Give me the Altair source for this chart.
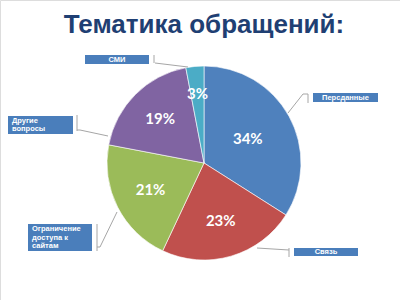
import altair as alt
import pandas as pd

# ---- data ----
categories = ["Персданные", "Связь", "Ограничение доступа к сайтам", "Другие вопросы", "СМИ"]
shares = [34, 23, 21, 19, 3]
colors = ["#4F81BD", "#C0504D", "#9BBB59", "#8064A2", "#4BACC6"]
label_lines = [["Персданные"], ["Связь"], ["Ограничение", "доступа к", "сайтам"], ["Другие", "вопросы"], ["СМИ"]]

# ---- layout (annotation placement, pixels) ----
CX, CY, R = 204, 163, 97
pct_radius = [50, 60, 60, 62, 69]
boxes = [  # x0, y0, x1, y1, text-align
    (313, 93, 378, 102, "center"),
    (294, 248, 358, 256, "center"),
    (28, 224, 92, 251, "left"),
    (8, 116, 73, 134, "left"),
    (85, 55, 149, 64, "center"),
]
leaders = [  # polyline points
    [(288, 113), (303, 94), (308, 94)],
    [(257, 248), (289, 250)],
    [(117, 212), (100, 247), (97, 247)],
    [(108, 136), (80, 130), (77, 130)],
    [(188, 67), (155, 63)],
]
ticks = [(308, 94, 103), (289, 248, 257), (97, 224, 251), (77, 115, 131), (154, 55, 63)]

df = pd.DataFrame({
    "cat": categories,
    "share": shares,
    "idx": list(range(len(categories))),
    "label": [f"{s}%" for s in shares],
    "r": pct_radius,
})
total = float(sum(shares))
df["mid"] = df["share"].cumsum() - df["share"] / 2

color_scale = alt.Scale(domain=categories, range=colors)
pie = alt.Chart(df).mark_arc(outerRadius=R, stroke="#ffffff", strokeWidth=0.6).encode(
    theta=alt.Theta("share:Q", stack=True),
    order=alt.Order("idx:Q"),
    color=alt.Color("cat:N", scale=color_scale, legend=None),
    x=alt.value(CX), y=alt.value(CY),
)
pct = alt.Chart(df).mark_text(font="Lato", fontSize=15, fontWeight="bold", color="white").encode(
    theta=alt.Theta("mid:Q", stack=None, scale=alt.Scale(domain=[0, total], range=[0, 6.283185307179586])),
    text="label:N",
    radius=alt.Radius("r:Q", scale=None),
    x=alt.value(CX), y=alt.value(CY),
)

# label boxes
bx = pd.DataFrame({
    "x0": [b[0] for b in boxes], "y0": [b[1] for b in boxes],
    "x1": [b[2] for b in boxes], "y1": [b[3] for b in boxes],
})
box_layer = alt.Chart(bx).mark_rect(color="#4A7EBB").encode(
    x=alt.X("x0:Q", scale=None), x2="x1:Q",
    y=alt.Y("y0:Q", scale=None), y2="y1:Q",
)

# box texts
rows = []
for i, (b, lines) in enumerate(zip(boxes, label_lines)):
    x0, y0, x1, y1, al = b
    n = len(lines)
    lh = 8.5
    top = (y0 + y1) / 2 - (n - 1) * lh / 2
    for j, t in enumerate(lines):
        rows.append({"t": t, "x": (x0 + x1) / 2 if al == "center" else x0 + 4,
                     "y": top + j * lh, "al": al})
tx = pd.DataFrame(rows)
txt_c = alt.Chart(tx[tx.al == "center"]).mark_text(
    font="Liberation Sans", fontSize=7.5, fontWeight="bold", color="white", align="center", baseline="middle"
).encode(x=alt.X("x:Q", scale=None), y=alt.Y("y:Q", scale=None), text="t:N")
txt_l = alt.Chart(tx[tx.al == "left"]).mark_text(
    font="Liberation Sans", fontSize=7.5, fontWeight="bold", color="white", align="left", baseline="middle"
).encode(x=alt.X("x:Q", scale=None), y=alt.Y("y:Q", scale=None), text="t:N")

# leader lines
seg = []
for pts in leaders:
    for a, b in zip(pts[:-1], pts[1:]):
        seg.append({"x": a[0], "y": a[1], "x2": b[0], "y2": b[1]})
for (x, ya, yb) in ticks:
    seg.append({"x": x, "y": ya, "x2": x, "y2": yb})
sg = pd.DataFrame(seg)
lead = alt.Chart(sg).mark_rule(color="#A6A6A6", strokeWidth=1).encode(
    x=alt.X("x:Q", scale=None), y=alt.Y("y:Q", scale=None), x2="x2:Q", y2="y2:Q"
)

title = alt.Chart(pd.DataFrame({"t": ["Тематика обращений:"]})).mark_text(
    font="Liberation Sans", fontSize=26, fontWeight="bold", color="#1F3F73", align="center", baseline="alphabetic"
).encode(x=alt.value(204), y=alt.value(33), text="t:N")

chart = alt.layer(pie, pct, lead, box_layer, txt_c, txt_l, title).properties(
    width=400, height=300, autosize=alt.AutoSizeParams(type="none"), padding=0
).configure_view(stroke=None).configure(background="white")

chart.save("out.html", embed_options={"renderer": "svg", "actions": False})
